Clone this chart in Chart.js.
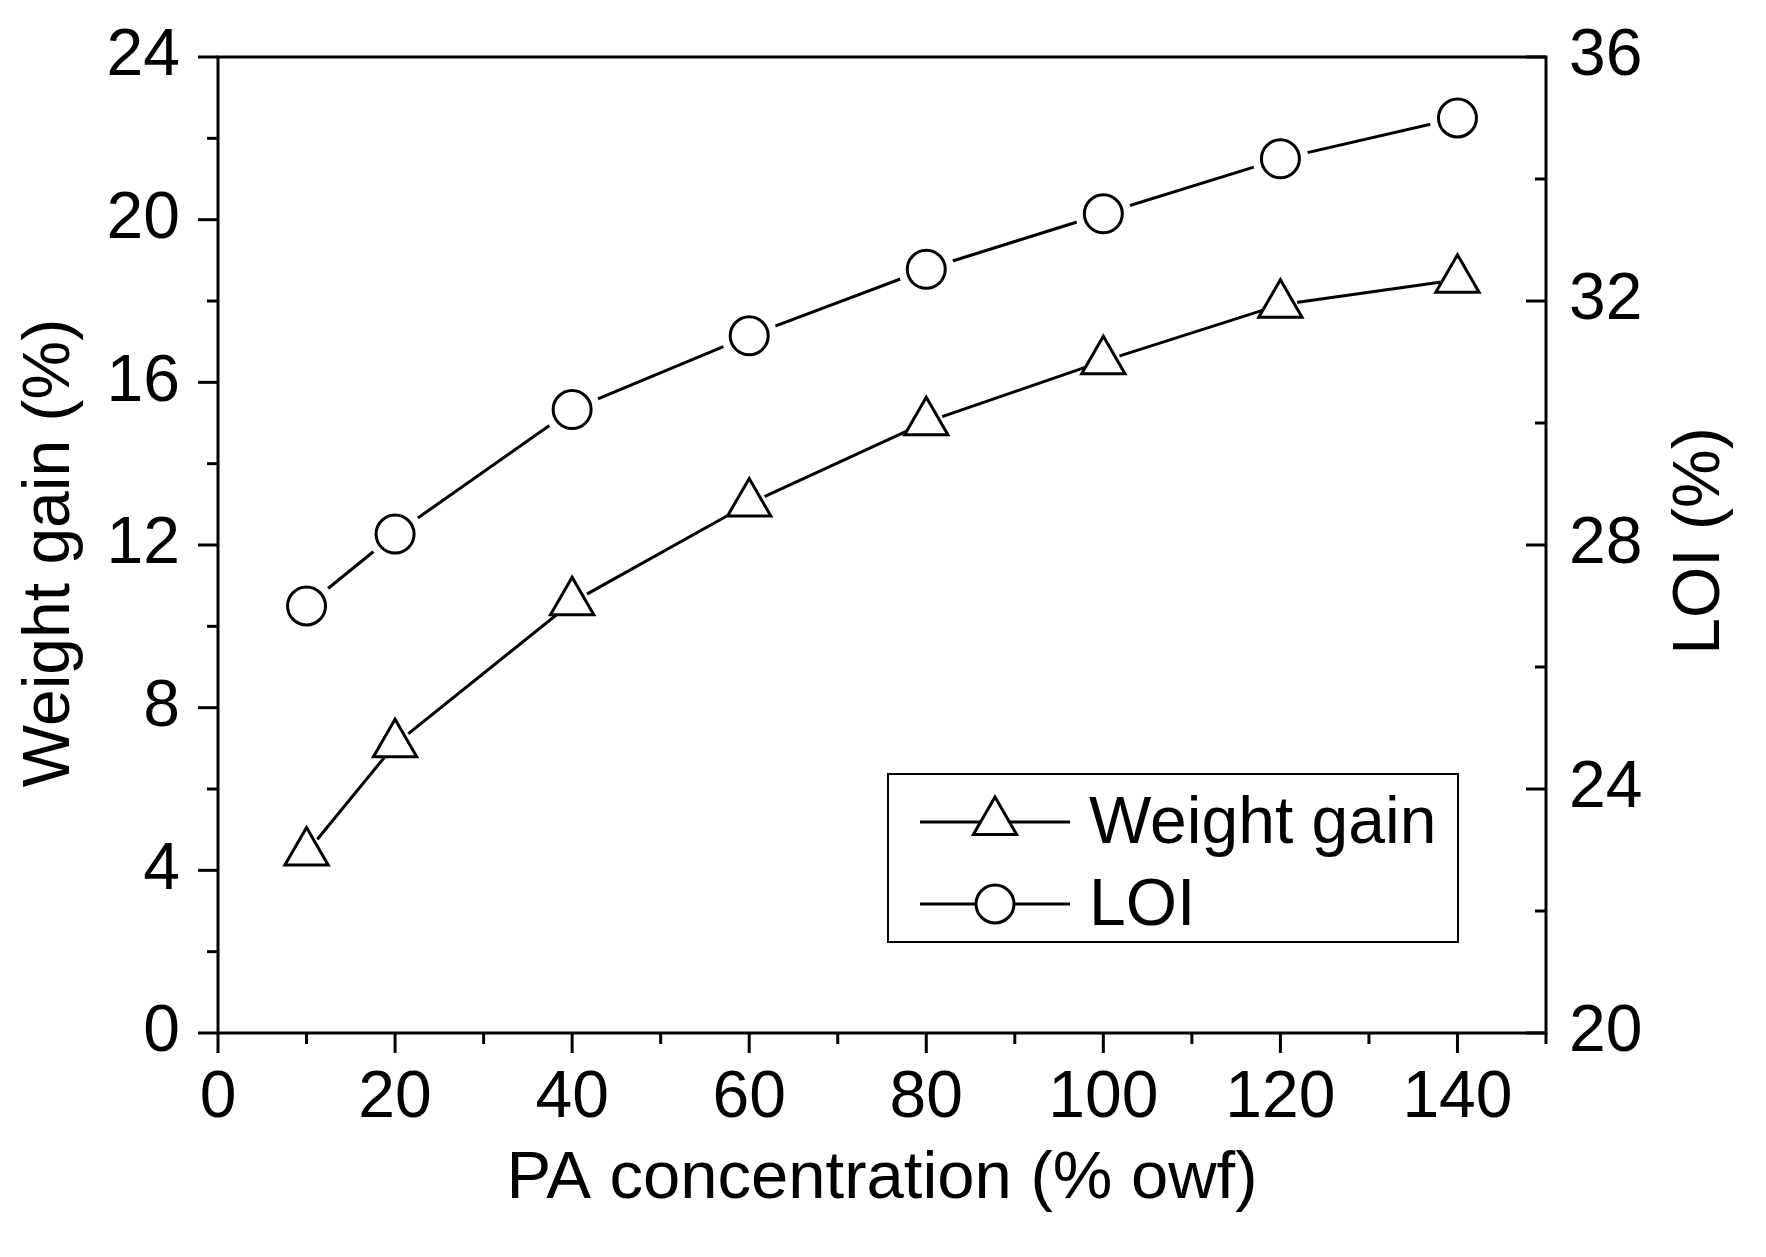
<!DOCTYPE html>
<html>
<head>
<meta charset="utf-8">
<script src="https://cdn.jsdelivr.net/npm/chart.js@4.4.1/dist/chart.umd.min.js"></script>
<style>
  html, body { margin: 0; padding: 0; background: #fff; }
  #wrap { width: 1766px; height: 1257px; }
</style>
</head>
<body>
<div id="wrap"><canvas id="chart"></canvas></div>
<script>
// data
const concentrations = [10, 20, 40, 60, 80, 100, 120, 140];
const weightGain = [4.44, 7.10, 10.59, 13.02, 15.02, 16.52, 17.91, 18.52];
const loi = [27.0, 28.18, 30.22, 31.43, 32.52, 33.43, 34.33, 35.0];

const xTicks = [0, 20, 40, 60, 80, 100, 120, 140];
const leftTicks = [0, 4, 8, 12, 16, 20, 24];
const rightTicks = [20, 24, 28, 32, 36];

const FONT = "'Liberation Sans', Arial, sans-serif";

const pts = (ys) => concentrations.map((x, i) => ({ x, y: ys[i] }));

const ctx = document.getElementById('chart').getContext('2d');

// frame, minor/major ticks, y titles, legend box
const framePlugin = {
    id: 'frame',
    afterDatasetsDraw(chart) {
        const c = chart.ctx;
        const { left, right, top, bottom } = chart.chartArea;
        c.save();
        c.strokeStyle = '#000';
        c.lineWidth = 3;
        c.lineCap = 'butt';
        c.strokeRect(left, top, right - left, bottom - top);

        const tick = (x1, y1, x2, y2) => {
            c.beginPath();
            c.moveTo(x1, y1);
            c.lineTo(x2, y2);
            c.stroke();
        };
        const withMinor = (majors, max) => {
            const step = majors[1] - majors[0];
            const out = [];
            majors.forEach(v => {
                out.push([v, 20]);
                if (v + step / 2 <= max) out.push([v + step / 2, 11]);
            });
            return out;
        };

        const y = chart.scales.y, y1 = chart.scales.y1, x = chart.scales.x;
        withMinor(leftTicks, y.max).forEach(([v, len]) => {
            const p = y.getPixelForValue(v);
            tick(left - len, p, left, p);
        });
        withMinor(rightTicks, y1.max).forEach(([v, len]) => {
            const p = y1.getPixelForValue(v);
            tick(right - len, p, right, p);
        });
        withMinor(xTicks, x.max).forEach(([v, len]) => {
            const p = x.getPixelForValue(v);
            tick(p, bottom, p, bottom + len);
        });

        // both y titles read bottom-to-top
        const vTitle = (text, tx, ty) => {
            c.save();
            c.fillStyle = '#000';
            c.font = `66px ${FONT}`;
            c.textAlign = 'center';
            c.textBaseline = 'middle';
            c.translate(tx, ty);
            c.rotate(-Math.PI / 2);
            c.fillText(text, 0, 0);
            c.restore();
        };
        vTitle('Weight gain (%)', 51, 553);
        vTitle('LOI (%)', 1701, 541);
        c.restore();

        // legend
        c.save();
        c.strokeStyle = '#000';
        c.lineWidth = 2;
        c.strokeRect(888, 774, 570, 168);
        const rows = [822, 904];
        chart.data.datasets.filter(d => d.legendEntry).forEach((d, i) => {
            const ry = rows[i];
            c.lineWidth = 3;
            c.strokeStyle = '#000';
            tick(920, ry, 1070, ry);
            c.fillStyle = '#fff';
            Chart.helpers.drawPoint(c, {
                pointStyle: d.pointStyle,
                radius: d.pointRadius,
                rotation: 0,
                borderWidth: 3
            }, 995, ry);
            c.fillStyle = '#000';
            c.font = `66px ${FONT}`;
            c.textAlign = 'left';
            c.textBaseline = 'middle';
            c.fillText(d.label, 1089, ry + 3);
        });
        c.restore();
    }
};

const tickFont = { family: FONT, size: 66 };
const noPad = s => { s.paddingTop = 0; s.paddingBottom = 0; s.paddingLeft = 0; s.paddingRight = 0; };

new Chart(ctx, {
    type: 'line',
    data: {
        datasets: [
            { label: 'wg-line', data: pts(weightGain), yAxisID: 'y', borderColor: '#000', borderWidth: 3, pointRadius: 0, order: 4 },
            { label: 'loi-line', data: pts(loi), yAxisID: 'y1', borderColor: '#000', borderWidth: 3, pointRadius: 0, order: 4 },
            { label: 'wg-gap', data: pts(weightGain), yAxisID: 'y', showLine: false, pointStyle: 'circle', pointRadius: 17, pointBackgroundColor: '#fff', pointBorderWidth: 0, order: 2 },
            { label: 'loi-gap', data: pts(loi), yAxisID: 'y1', showLine: false, pointStyle: 'circle', pointRadius: 28, pointBackgroundColor: '#fff', pointBorderWidth: 0, order: 2 },
            { label: 'Weight gain', legendEntry: true, data: pts(weightGain), yAxisID: 'y', showLine: false, pointStyle: 'triangle', pointRadius: 25, pointBackgroundColor: '#fff', pointBorderColor: '#000', pointBorderWidth: 3, order: 0 },
            { label: 'LOI', legendEntry: true, data: pts(loi), yAxisID: 'y1', showLine: false, pointStyle: 'circle', pointRadius: 19, pointBackgroundColor: '#fff', pointBorderColor: '#000', pointBorderWidth: 3, order: 0 }
        ]
    },
    options: {
        responsive: true,
        maintainAspectRatio: false,
        devicePixelRatio: 1,
        animation: false,
        events: [],
        layout: { padding: { top: 57, left: 0, right: 0, bottom: 0 } },
        plugins: { legend: { display: false }, tooltip: { enabled: false } },
        scales: {
            x: {
                type: 'linear', min: 0, max: 150,
                afterBuildTicks: s => { s.ticks = xTicks.map(v => ({ value: v })); },
                afterFit: s => { s.height = 224; noPad(s); },
                grid: { display: false, drawTicks: false },
                border: { display: false },
                ticks: { font: tickFont, color: '#000', padding: 26, maxRotation: 0, autoSkip: false },
                title: { display: true, text: 'PA concentration (% owf)', color: '#000', font: { family: FONT, size: 67 }, padding: { top: 0, bottom: 37 } }
            },
            y: {
                type: 'linear', position: 'left', min: 0, max: 24,
                afterBuildTicks: s => { s.ticks = leftTicks.map(v => ({ value: v })); },
                afterFit: s => { s.width = 218; noPad(s); },
                grid: { display: false, drawTicks: false },
                border: { display: false },
                ticks: { font: tickFont, color: '#000', padding: 38, autoSkip: false }
            },
            y1: {
                type: 'linear', position: 'right', min: 20, max: 36,
                afterBuildTicks: s => { s.ticks = rightTicks.map(v => ({ value: v })); },
                afterFit: s => { s.width = 220; noPad(s); },
                grid: { display: false, drawTicks: false },
                border: { display: false },
                ticks: { font: tickFont, color: '#000', padding: 23, autoSkip: false }
            }
        }
    },
    plugins: [framePlugin]
});
</script>
</body>
</html>
